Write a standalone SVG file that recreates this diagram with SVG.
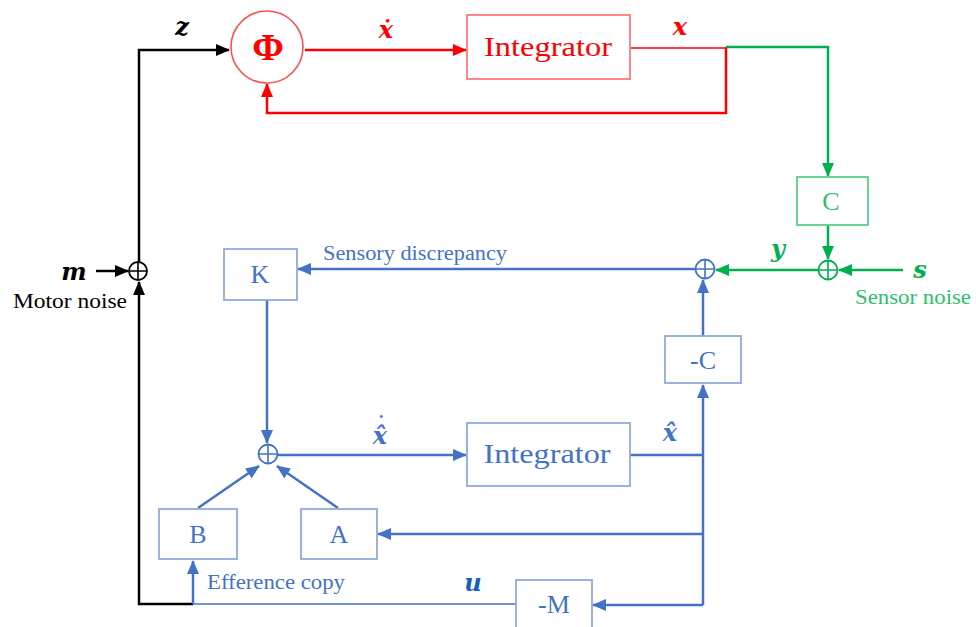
<svg xmlns="http://www.w3.org/2000/svg" width="976" height="627" viewBox="0 0 976 627">
<style>
  .bg{fill:#ffffff}
  .ln{fill:none;stroke-width:2.5;stroke-linejoin:miter}
  .k{stroke:#000000}
  .r{stroke:#ff0000}
  .g{stroke:#00b050}
  .b{stroke:#4472c4}
  .thin{stroke-width:1.3}
  .box{stroke-width:1.8}
  .rbox{fill:#ffffff;stroke:#ff7a7a}
  .gbox{fill:#ffffff;stroke:#5cce8c}
  .bbox{fill:#ffffff;stroke:#8eaadf}
  .sum{fill:#ffffff;stroke-width:1.8}
  .lab{font-family:"Liberation Serif","DejaVu Serif",serif}
  .math{font-family:"DejaVu Serif","Liberation Serif",serif;font-weight:bold;font-style:italic;font-size:24px;text-anchor:middle}
  .bt{font-family:"Liberation Serif","DejaVu Serif",serif;font-size:26px;text-anchor:middle}
  .it{font-family:"Liberation Serif","DejaVu Serif",serif;font-size:28px;text-anchor:middle}
</style>
<defs>
  <marker id="ak" viewBox="0 0 14 12" refX="13" refY="6" markerWidth="14" markerHeight="12" markerUnits="userSpaceOnUse" orient="auto"><path d="M0,0 L14,6 L0,12 Z" fill="#000000"/></marker>
  <marker id="ar" viewBox="0 0 14 12" refX="13" refY="6" markerWidth="14" markerHeight="12" markerUnits="userSpaceOnUse" orient="auto"><path d="M0,0 L14,6 L0,12 Z" fill="#ff0000"/></marker>
  <marker id="ag" viewBox="0 0 14 12" refX="13" refY="6" markerWidth="14" markerHeight="12" markerUnits="userSpaceOnUse" orient="auto"><path d="M0,0 L14,6 L0,12 Z" fill="#00b050"/></marker>
  <marker id="ab" viewBox="0 0 14 12" refX="13" refY="6" markerWidth="14" markerHeight="12" markerUnits="userSpaceOnUse" orient="auto"><path d="M0,0 L14,6 L0,12 Z" fill="#4472c4"/></marker>
</defs>
<rect class="bg" x="0" y="0" width="976" height="627"/>

<g id="connectors">
  <!-- black -->
  <path class="ln k" d="M193,604 H139 V282" marker-end="url(#ak)"/>
  <path class="ln k" d="M139,262 V50 H229" marker-end="url(#ak)"/>
  <path class="ln k" d="M96,271 H128" marker-end="url(#ak)"/>
  <!-- red -->
  <path class="ln r" d="M305,50 H466" marker-end="url(#ar)"/>
  <path class="ln r thin" d="M630,48 H726"/>
  <path class="ln r" d="M726,47 V113 H267 V84" marker-end="url(#ar)"/>
  <!-- green -->
  <path class="ln g" d="M726,47 H828 V176" marker-end="url(#ag)"/>
  <path class="ln g" d="M828,225 V259" marker-end="url(#ag)"/>
  <path class="ln g" d="M903,270 H839" marker-end="url(#ag)"/>
  <path class="ln g" d="M818,270 H716" marker-end="url(#ag)"/>
  <!-- blue -->
  <path class="ln b" d="M695,269 H298" marker-end="url(#ab)"/>
  <path class="ln b" d="M267,300 V443" marker-end="url(#ab)"/>
  <path class="ln b" d="M278,455 H466" marker-end="url(#ab)"/>
  <path class="ln b" d="M630,455 H703"/>
  <path class="ln b" d="M703,605 V385" marker-end="url(#ab)"/>
  <path class="ln b" d="M703,336 V280" marker-end="url(#ab)"/>
  <path class="ln b" d="M703,534 H378" marker-end="url(#ab)"/>
  <path class="ln b" d="M703,605 H593" marker-end="url(#ab)"/>
  <path class="ln b" d="M198,508 L259,466" marker-end="url(#ab)"/>
  <path class="ln b" d="M338,508 L277,466" marker-end="url(#ab)"/>
  <path class="ln b thin" d="M193,604 H516"/>
  <path class="ln b" d="M193,604 V561" marker-end="url(#ab)"/>
</g>

<g id="phi">
  <circle cx="267" cy="47" r="36" fill="#ffffff" stroke="#ff4d4d" stroke-width="1.6"/>
  <text x="268" y="60" class="lab" font-size="38" font-weight="bold" fill="#ff0000" text-anchor="middle">Φ</text>
</g>
<g id="integrator-plant">
  <rect class="rbox box" x="467" y="15" width="163" height="64"/>
  <text x="548" y="56" class="it" fill="#ff0000" textLength="128" lengthAdjust="spacingAndGlyphs">Integrator</text>
</g>
<g id="C">
  <rect class="gbox box" x="797" y="177" width="71" height="48"/>
  <text x="831" y="210" class="bt" fill="#2fbf6a">C</text>
</g>
<g id="sum-sensor">
  <circle class="sum" cx="828" cy="270" r="9.5" stroke="#00b050"/>
  <path d="M818.5,270 H837.5 M828,260.5 V279.5" stroke="#00b050" stroke-width="1.6"/>
</g>
<g id="sum-discrepancy">
  <circle class="sum" cx="705" cy="269" r="9.5" stroke="#4472c4"/>
  <path d="M695.5,269 H714.5 M705,259.5 V278.5" stroke="#4472c4" stroke-width="1.6"/>
</g>
<g id="sum-motor">
  <circle class="sum" cx="138" cy="271" r="9" stroke="#000000"/>
  <path d="M129,271 H147 M138,262 V280" stroke="#000000" stroke-width="1.6"/>
</g>
<g id="K">
  <rect class="bbox box" x="224" y="249" width="73" height="51"/>
  <text x="260" y="283" class="bt" fill="#4472c4">K</text>
</g>
<g id="minusC">
  <rect class="bbox box" x="665" y="336" width="76" height="47"/>
  <text x="703" y="369" class="bt" fill="#4472c4">-C</text>
</g>
<g id="sum-estimate">
  <circle class="sum" cx="268" cy="454" r="9.5" stroke="#4472c4"/>
  <path d="M258.5,454 H277.5 M268,444.5 V463.5" stroke="#4472c4" stroke-width="1.6"/>
</g>
<g id="integrator-model">
  <rect class="bbox box" x="467" y="423" width="163" height="63"/>
  <text x="547" y="463" class="it" fill="#4472c4" textLength="127" lengthAdjust="spacingAndGlyphs">Integrator</text>
</g>
<g id="B">
  <rect class="bbox box" x="159" y="509" width="78" height="50"/>
  <text x="198" y="543" class="bt" fill="#4472c4">B</text>
</g>
<g id="A">
  <rect class="bbox box" x="301" y="509" width="76" height="50"/>
  <text x="339" y="543" class="bt" fill="#4472c4">A</text>
</g>
<g id="minusM">
  <rect class="bbox box" x="516" y="580" width="76" height="60"/>
  <text x="554" y="613" class="bt" fill="#4472c4">-M</text>
</g>

<g id="labels">
  <text x="182" y="35" class="math" fill="#000000">z</text>
  <text x="386" y="38" class="math" fill="#ff0000">ẋ</text>
  <text x="680" y="35" class="math" fill="#ff0000">x</text>
  <text x="778" y="257" class="math" fill="#00b050">y</text>
  <text x="920" y="278" class="math" fill="#00b050">s</text>
  <text x="913" y="304" class="lab" font-size="20" fill="#2fbf6a" text-anchor="middle" textLength="116" lengthAdjust="spacingAndGlyphs">Sensor noise</text>
  <text x="74" y="280" class="math" fill="#000000">m</text>
  <text x="70" y="308" class="lab" font-size="20" fill="#000000" text-anchor="middle" textLength="114" lengthAdjust="spacingAndGlyphs">Motor noise</text>
  <text x="415" y="260" class="lab" font-size="20" fill="#4472c4" text-anchor="middle" textLength="184" lengthAdjust="spacingAndGlyphs">Sensory discrepancy</text>
  <text x="380" y="444" class="math" fill="#4472c4">x̂<tspan dx="-11" dy="-13" font-size="20" font-style="normal">˙</tspan></text>
  <text x="670" y="441" class="math" fill="#4472c4">x̂</text>
  <text x="276" y="589" class="lab" font-size="20" fill="#4472c4" text-anchor="middle" textLength="138" lengthAdjust="spacingAndGlyphs">Efference copy</text>
  <text x="473" y="591" class="math" fill="#1560b8">u</text>
</g>
</svg>
